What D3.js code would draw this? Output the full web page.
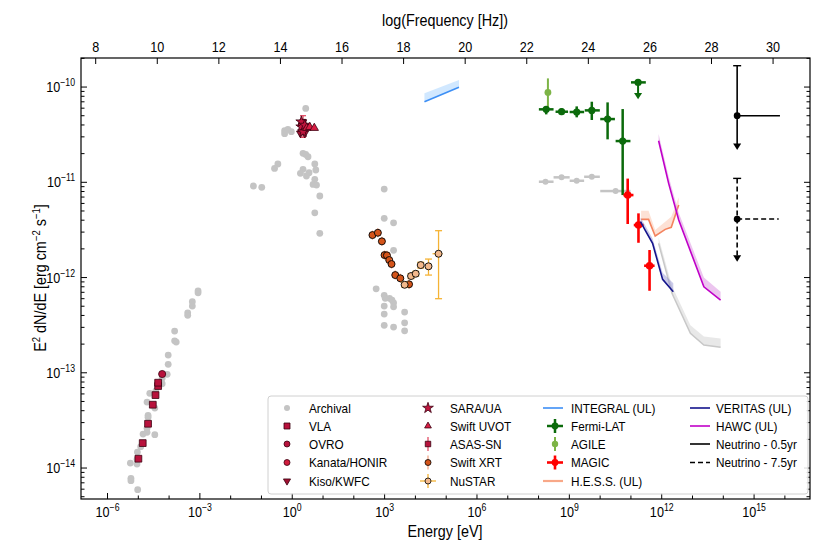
<!DOCTYPE html>
<html><head><meta charset="utf-8">
<script src="https://cdn.jsdelivr.net/npm/d3@7"></script>
<style>
body{margin:0;background:#fff}
svg{display:block}
text{font-family:"Liberation Sans",Arial,sans-serif;fill:#000}
</style>
</head><body>
<svg id="c" width="830" height="554"></svg>
<script>
// ---- DATA: log10(Energy [eV]) and log10(E^2 dN/dE [erg cm^-2 s^-1]) ----
const archival = [
 [-3.059,-12.139],[-3.059,-12.160],[-3.245,-12.254],[-3.245,-12.299],[-3.395,-12.370],[-3.395,-12.397],
 [-3.820,-12.562],[-3.820,-12.664],[-3.768,-12.677],[-4.029,-12.814],[-4.029,-12.911],[-4.062,-13.016],
 [-4.225,-13.058],[-4.225,-13.115],[-4.431,-13.192],[-4.627,-13.216],[-4.716,-13.307],[-4.464,-13.370],
 [-4.683,-13.447],[-4.683,-13.468],[-4.716,-13.583],[-4.716,-13.625],[-4.846,-13.643],[-4.464,-13.650],
 [-4.922,-13.776],[-5.029,-13.832],[-5.042,-13.909],[-5.258,-13.948],[-5.042,-13.958],[-5.239,-14.108],
 [-5.239,-14.133],[-5.020,-14.227],
 [0.438,-10.224],[-0.248,-10.459],[-0.141,-10.444],[-0.029,-10.469],[-0.248,-10.49],[0.350,-10.696],
 [0.438,-10.707],[0.513,-10.732],[-0.467,-10.808],[-0.575,-10.854],[0.732,-10.808],[0.765,-10.871],
 [0.350,-10.864],[0.265,-10.906],[0.546,-10.900],[0.461,-10.934],[0.732,-10.969],[0.676,-11.022],
 [0.788,-11.029],[-1.261,-11.039],[-0.990,-11.053],[0.895,-11.144],[0.732,-11.320],[0.895,-11.536],
 [2.987,-11.071],[2.987,-11.378],[3.291,-11.425],[3.291,-11.714],[2.725,-12.118],[2.987,-12.187],
 [3.020,-12.218],[3.160,-12.218],[3.239,-12.236],[3.291,-12.265],[2.987,-12.299],[3.291,-12.307],
 [2.987,-12.383],[3.650,-12.362],[2.987,-12.502],[3.291,-12.520],[3.650,-12.475],[3.650,-12.559]
];
// archival gamma-ray bins: [logE, logElo, logEhi, logF]
const archivalGamma = [
 [8.225,8.010,8.487,-10.994],[8.748,8.487,9.010,-10.948],[9.239,9.010,9.480,-10.984],
 [9.729,9.480,9.990,-10.942],[10.503,10.003,10.984,-11.092]
];
const vla = [[-4.997,-13.902],[-4.856,-13.738],[-4.683,-13.535],[-4.529,-13.335],[-4.441,-13.234],[-4.356,-13.139],[-4.356,-13.104]];
const ovro = [[-4.225,-13.013]];
const kanata = [[0.297,-10.390],[0.373,-10.435]];
const kiso = [[0.265,-10.486],[0.405,-10.486]];
const sara = [[0.297,-10.417],[0.350,-10.469],[0.297,-10.364],[0.405,-10.399]];
const uvot = [[0.471,-10.430],[0.569,-10.420],[0.716,-10.430]];
// ASAS-SN [logE, logF, logFlo, logFhi]
const asassn = [[0.350,-10.371,-10.528,-10.301]];
// Swift XRT [logE, logF]
const xrt = [[2.605,-11.554],[2.781,-11.530],[2.912,-11.620],[2.997,-11.764],[3.075,-11.767],
 [3.150,-11.816],[3.225,-11.858],[3.346,-11.974],[3.510,-12.008],[3.794,-12.071]];
// NuSTAR [logE, logF, logFlo, logFhi, logElo, logEhi]
const nustar = [[3.650,-12.076,-12.10,-12.05,3.62,3.68],[3.859,-11.984,-12.01,-11.96,3.83,3.89],
 [4.010,-11.960,-11.985,-11.935,3.98,4.04],[4.173,-11.869,-11.90,-11.84,4.14,4.21],
 [4.425,-11.882,-11.974,-11.806,4.37,4.48],[4.752,-11.750,-12.222,-11.508,4.556,4.882]];
// INTEGRAL UL [logE, logF (line), logF band top]
const integral = [[4.294,-10.154,-10.066],[5.415,-10.003,-9.926]];
// Fermi-LAT [logE, logElo, logEhi, logF, logFlo, logFhi]
const fermi = [[8.248,8.010,8.487,-10.234,-10.287,-10.199],[8.748,8.552,8.958,-10.259,-10.294,-10.224],
 [9.239,9.010,9.480,-10.262,-10.318,-10.203],[9.729,9.500,9.990,-10.245,-10.346,-10.154],
 [10.242,10.003,10.480,-10.336,-10.549,-10.161],[10.732,10.503,10.984,-10.567,-11.134,-10.231]];
// Fermi UL [logE, logElo, logEhi, logF, logFarrow]
const fermiUL = [[11.232,11.003,11.484,-9.951,-10.129]];
// AGILE [logE, logF, logFlo, logFhi]
const agile = [[8.304,-10.056,-10.234,-9.909]];
// MAGIC [logE, logElo, logEhi, logF, logFlo, logFhi]
const magic = [[10.895,10.755,11.082,-11.134,-11.438,-10.961],[11.245,11.092,11.418,-11.449,-11.635,-11.326],
 [11.605,11.428,11.768,-11.876,-12.139,-11.711]];
// H.E.S.S. UL [logE, logF, band top]
const hess = [[11.330,-11.389,-11.298],[11.572,-11.389,-11.298],[11.788,-11.564,-11.501],
 [12.114,-11.494,-11.414],[12.310,-11.473,-11.362],[12.552,-11.239,-11.158]];
// VERITAS UL [logE, logF, band top]
const veritas = [[11.310,-11.414,-11.37],[11.461,-11.501,-11.45],[11.703,-11.641,-11.59],
 [12.029,-12.019,-11.95],[12.376,-12.149,-12.06]];
// HAWC UL [logE, logF, band top]
const hawc = [[11.899,-10.564,-10.493],[12.225,-11.011,-10.94],[12.552,-11.396,-11.32],
 [13.369,-12.097,-12.00],[13.912,-12.236,-12.15]];
// archival TeV band [logE, logF, band top]
const greyBand = [[11.899,-11.641,-11.58],[12.333,-12.166,-12.09],[12.931,-12.586,-12.50],
 [13.369,-12.709,-12.62],[13.912,-12.733,-12.64]];
// Neutrino [logE, logEhi, logF, logFtop, logFarrow]
const nu05 = [[14.45,15.84,-10.301,-9.776,-10.661]];
const nu75 = [[14.45,15.80,-11.386,-10.959,-11.834]];
// ticks
const xMajorTicks = [-6,-3,0,3,6,9,12,15];
const xMajorLabels = ["−6","−3","0","3","6","9","12","15"];
const yMajorTicks = [-10,-11,-12,-13,-14];
const yMajorLabels = ["−10","−11","−12","−13","−14"];
const freqTicks = [8,10,12,14,16,18,20,22,24,26,28,30];
const logH = -14.3835; // log10(h [eV s])

// ---- CHART ----
const X0=81, X1=810, Y0=58, Y1=499;
const SX=0.87; // horizontal text compression
const svg = d3.select("#c");
const x = d3.scaleLog().domain([10**-6.861, 10**16.816]).range([X0, X1]);
const y = d3.scaleLog().domain([10**-14.325, 10**-9.695]).range([Y1, Y0]);
const X = v => x(10**v), Y = v => y(10**v);

svg.append("defs").append("clipPath").attr("id","clp")
  .append("rect").attr("x",X0).attr("y",Y0).attr("width",X1-X0).attr("height",Y1-Y0);
const g = svg.append("g").attr("clip-path","url(#clp)");

function txt(parent, px, py, size, anchor, rot){
  return parent.append("text").attr("transform",`translate(${px},${py})${rot?` rotate(${rot})`:""} scale(${SX},1)`)
    .attr("font-size",size).attr("text-anchor",anchor||"start");
}
function line(x1,y1,x2,y2,color,w,dash){
  const l = g.append("line").attr("x1",x1).attr("y1",y1).attr("x2",x2).attr("y2",y2)
    .attr("stroke",color).attr("stroke-width",w);
  if(dash) l.attr("stroke-dasharray",dash);
  return l;
}
function sym(parent, type, cx, cy, size, fill, stroke, sw, rot){
  return parent.append("path").attr("d", d3.symbol().type(type).size(size)())
    .attr("transform",`translate(${cx},${cy})${rot?` rotate(${rot})`:""}`)
    .attr("fill",fill).attr("stroke",stroke||"none").attr("stroke-width",sw||0);
}
function arrowDown(parent, cx, cy, color, s){
  parent.append("path").attr("d",`M${cx-s},${cy-s*1.6}L${cx+s},${cy-s*1.6}L${cx},${cy}Z`).attr("fill",color);
}
function band(data, fill, op){
  g.append("path").datum(data).attr("d", d3.area().x(d=>X(d[0])).y0(d=>Y(d[1])).y1(d=>Y(d[2])))
    .attr("fill",fill).attr("opacity",op);
}
function polyline(data, color, w){
  g.append("path").datum(data).attr("d", d3.line().x(d=>X(d[0])).y(d=>Y(d[1])))
    .attr("fill","none").attr("stroke",color).attr("stroke-width",w);
}
band(greyBand,"#bdbdbd",0.35); polyline(greyBand,"#c8c8c8",1.5);
band(integral,"#99ccff",0.45); polyline(integral,"#3d8ff5",1.6);

// archival points
archival.forEach(d=>g.append("circle").attr("cx",X(d[0])).attr("cy",Y(d[1])).attr("r",3.4).attr("fill","#c4c4c4"));
archivalGamma.forEach(d=>{
  line(X(d[1]),Y(d[3]),X(d[2]),Y(d[3]),"#c4c4c4",2.5);
  g.append("circle").attr("cx",X(d[0])).attr("cy",Y(d[3])).attr("r",3).attr("fill","#c4c4c4");
});

// radio / optical
const RED="#b8123c", EDGE="#3a0010";
vla.forEach(d=>sym(g,d3.symbolSquare,X(d[0]),Y(d[1]),46,RED,EDGE,0.8));
ovro.forEach(d=>sym(g,d3.symbolCircle,X(d[0]),Y(d[1]),40,RED,EDGE,0.8));
asassn.forEach(d=>{
  line(X(d[0]),Y(d[2]),X(d[0]),Y(d[3]),"#e0405a",1.2);
  line(X(d[0])-3,Y(d[2]),X(d[0])+3,Y(d[2]),"#e0405a",1.2);
  line(X(d[0])-3,Y(d[3]),X(d[0])+3,Y(d[3]),"#e0405a",1.2);
  sym(g,d3.symbolSquare,X(d[0]),Y(d[1]),36,RED,EDGE,0.8);
});
kanata.forEach(d=>sym(g,d3.symbolCircle,X(d[0]),Y(d[1]),30,"#d01c3c",EDGE,0.8));
kiso.forEach(d=>sym(g,d3.symbolTriangle,X(d[0]),Y(d[1]),26,"#a01030",EDGE,0.8,180));
sara.forEach(d=>sym(g,d3.symbolStar,X(d[0]),Y(d[1]),38,"#c0163e",EDGE,0.8));
uvot.forEach(d=>sym(g,d3.symbolTriangle,X(d[0]),Y(d[1]),30,"#d81e44",EDGE,0.8));

// X-ray
xrt.forEach(d=>{
  line(X(d[0]),Y(d[1])-4.5,X(d[0]),Y(d[1])+4.5,"#f2a07e",1.2);
  line(X(d[0])-3.5,Y(d[1]),X(d[0])+3.5,Y(d[1]),"#f2a07e",1.2);
  g.append("circle").attr("cx",X(d[0])).attr("cy",Y(d[1])).attr("r",3.5).attr("fill","#d4541a").attr("stroke","#000").attr("stroke-width",0.9);
});
const NUC="#f5b335";
nustar.forEach(d=>{
  line(X(d[4]),Y(d[1]),X(d[5]),Y(d[1]),NUC,1.3);
  line(X(d[0]),Y(d[2]),X(d[0]),Y(d[3]),NUC,1.3);
  line(X(d[0])-3.5,Y(d[2]),X(d[0])+3.5,Y(d[2]),NUC,1.3);
  line(X(d[0])-3.5,Y(d[3]),X(d[0])+3.5,Y(d[3]),NUC,1.3);
  g.append("circle").attr("cx",X(d[0])).attr("cy",Y(d[1])).attr("r",3.5).attr("fill","#f3b98c").attr("stroke","#000").attr("stroke-width",0.9);
});

// AGILE
agile.forEach(d=>{
  line(X(d[0]),Y(d[2]),X(d[0]),Y(d[3]),"#7db446",2);
  g.append("circle").attr("cx",X(d[0])).attr("cy",Y(d[1])).attr("r",3.4).attr("fill","#7db446");
});
// Fermi
const FG="#0b6a0b";
fermi.forEach(d=>{
  line(X(d[1]),Y(d[3]),X(d[2]),Y(d[3]),FG,2.5);
  line(X(d[0]),Y(d[4]),X(d[0]),Y(d[5]),FG,2.5);
  g.append("circle").attr("cx",X(d[0])).attr("cy",Y(d[3])).attr("r",3.6).attr("fill",FG);
});
fermiUL.forEach(d=>{
  line(X(d[1]),Y(d[3]),X(d[2]),Y(d[3]),FG,2.5);
  line(X(d[0]),Y(d[3]),X(d[0]),Y(d[4])-4,FG,2);
  arrowDown(g,X(d[0]),Y(d[4]),FG,4);
  g.append("circle").attr("cx",X(d[0])).attr("cy",Y(d[3])).attr("r",3.6).attr("fill",FG);
});
// MAGIC
magic.forEach(d=>{
  line(X(d[1]),Y(d[3]),X(d[2]),Y(d[3]),"#ff0000",2.6);
  line(X(d[0]),Y(d[4]),X(d[0]),Y(d[5]),"#ff0000",2.6);
  g.append("circle").attr("cx",X(d[0])).attr("cy",Y(d[3])).attr("r",3.8).attr("fill","#ff0000");
});
// TeV ULs
band(hess,"#f8a888",0.35); polyline(hess,"#f4845f",1.6);
band(veritas,"#8c8cd0",0.45); polyline(veritas,"#14148c",1.6);
band(hawc,"#d98ce0",0.5); polyline(hawc,"#c000c8",1.6);

// Neutrino
function neutrino(d, dash){
  const px=X(d[0]), py=Y(d[2]);
  line(px,Y(d[3]),px,Y(d[4])-5,"#000",1.6,dash);
  line(px-4,Y(d[3]),px+4,Y(d[3]),"#000",1.4);
  line(px,py,X(d[1]),py,"#000",1.6,dash);
  arrowDown(g,px,Y(d[4]),"#000",4);
  g.append("circle").attr("cx",px).attr("cy",py).attr("r",3.4).attr("fill","#000");
}
nu05.forEach(d=>neutrino(d,null));
nu75.forEach(d=>neutrino(d,"5,3"));

// ---- AXES ----
const ax = svg.append("g");
ax.append("rect").attr("x",X0).attr("y",Y0).attr("width",X1-X0).attr("height",Y1-Y0)
  .attr("fill","none").attr("stroke","#000").attr("stroke-width",1.2);
function tick(x1,y1,x2,y2){ax.append("line").attr("x1",x1).attr("y1",y1).attr("x2",x2).attr("y2",y2).attr("stroke","#000").attr("stroke-width",1);}
// bottom
for(let e=-6;e<=16;e++){
  const px=X(e); if(px<X0||px>X1) continue;
  const major = xMajorTicks.includes(e);
  tick(px,Y1,px,Y1-(major?6:3.5));
}
xMajorTicks.forEach((e,i)=>{
  const t=txt(ax,X(e),Y1+18,14.5,"middle");
  t.append("tspan").text("10");
  t.append("tspan").attr("dy",-6).attr("font-size",10).text(xMajorLabels[i]);
});
// left & right y
for(let e=-15;e<=-9;e++){
  for(let m=1;m<10;m++){
    const py=y(m*10**e); if(py<Y0||py>Y1) continue;
    const len = m===1?6:3.5;
    tick(X0,py,X0+len,py); tick(X1,py,X1-len,py);
  }
}
yMajorTicks.forEach((e,i)=>{
  const t=txt(ax,X0-6,Y(e)+5,14.5,"end");
  t.append("tspan").text("10");
  t.append("tspan").attr("dy",-6).attr("font-size",10).text(yMajorLabels[i]);
});
// top frequency axis
freqTicks.forEach(f=>{
  const px=X(f+logH);
  tick(px,Y0,px,Y0+6);
  txt(ax,px,Y0-6,14.5,"middle").text(f);
});
txt(ax,445,26,16.5,"middle").text("log(Frequency [Hz])");
txt(ax,445,537,16.5,"middle").text("Energy [eV]");
const yl=txt(ax,46,278,16.5,"middle",-90);
yl.append("tspan").text("E");
yl.append("tspan").attr("dy",-6).attr("font-size",11).text("2");
yl.append("tspan").attr("dy",6).text(" dN/dE [erg cm");
yl.append("tspan").attr("dy",-6).attr("font-size",11).text("−2");
yl.append("tspan").attr("dy",6).text(" s");
yl.append("tspan").attr("dy",-6).attr("font-size",11).text("−1");
yl.append("tspan").attr("dy",6).text("]");

// ---- LEGEND ----
const lg = svg.append("g");
lg.append("rect").attr("x",268).attr("y",396).attr("width",540).attr("height",98).attr("rx",3)
  .attr("fill","#fff").attr("fill-opacity",0.85).attr("stroke","#d0d0d0");
const rowY=[408,426,444,462.5,481];
const cols=[{m:287,t:309},{m:428,t:450},{m:555,t:571},{m:700,t:716}];
function L(c,x1,x2,yy,col,w,dash){const l=c.append("line").attr("x1",x1).attr("x2",x2).attr("y1",yy).attr("y2",yy).attr("stroke",col).attr("stroke-width",w);if(dash)l.attr("stroke-dasharray",dash);}
function V(c,xx,y1,y2,col,w){c.append("line").attr("x1",xx).attr("x2",xx).attr("y1",y1).attr("y2",y2).attr("stroke",col).attr("stroke-width",w);}
const items=[
 ["Archival",0,0,(c,yy)=>c.append("circle").attr("cx",cols[0].m).attr("cy",yy).attr("r",3).attr("fill","#c4c4c4")],
 ["VLA",0,1,(c,yy)=>sym(c,d3.symbolSquare,cols[0].m,yy,36,RED,EDGE,0.8)],
 ["OVRO",0,2,(c,yy)=>sym(c,d3.symbolCircle,cols[0].m,yy,28,RED,EDGE,0.8)],
 ["Kanata/HONIR",0,3,(c,yy)=>sym(c,d3.symbolCircle,cols[0].m,yy,28,"#d01c3c",EDGE,0.8)],
 ["Kiso/KWFC",0,4,(c,yy)=>sym(c,d3.symbolTriangle,cols[0].m,yy,22,"#a01030",EDGE,0.8,180)],
 ["SARA/UA",1,0,(c,yy)=>sym(c,d3.symbolStar,cols[1].m,yy,36,"#c0163e",EDGE,0.8)],
 ["Swift UVOT",1,1,(c,yy)=>sym(c,d3.symbolTriangle,cols[1].m,yy,20,"#d81e44",EDGE,0.8)],
 ["ASAS-SN",1,2,(c,yy)=>{V(c,cols[1].m,yy-7,yy+7,"#e0405a",1.2);sym(c,d3.symbolSquare,cols[1].m,yy,30,RED,EDGE,0.8);}],
 ["Swift XRT",1,3,(c,yy)=>{V(c,cols[1].m,yy-7,yy+7,"#f2a07e",1.2);c.append("circle").attr("cx",cols[1].m).attr("cy",yy).attr("r",3).attr("fill","#d4541a").attr("stroke","#000").attr("stroke-width",0.8);}],
 ["NuSTAR",1,4,(c,yy)=>{L(c,cols[1].m-8,cols[1].m+8,yy,NUC,1.3);V(c,cols[1].m,yy-7,yy+7,NUC,1.3);c.append("circle").attr("cx",cols[1].m).attr("cy",yy).attr("r",3).attr("fill","#f3b98c").attr("stroke","#000").attr("stroke-width",0.8);}],
 ["INTEGRAL (UL)",2,0,(c,yy)=>L(c,cols[2].m-12,cols[2].m+8,yy,"#3d8ff5",1.6)],
 ["Fermi-LAT",2,1,(c,yy)=>{L(c,cols[2].m-8,cols[2].m+8,yy,FG,2.5);V(c,cols[2].m,yy-7,yy+7,FG,2.5);c.append("circle").attr("cx",cols[2].m).attr("cy",yy).attr("r",3.4).attr("fill",FG);}],
 ["AGILE",2,2,(c,yy)=>{V(c,cols[2].m,yy-7,yy+7,"#7db446",2);c.append("circle").attr("cx",cols[2].m).attr("cy",yy).attr("r",3.2).attr("fill","#7db446");}],
 ["MAGIC",2,3,(c,yy)=>{L(c,cols[2].m-8,cols[2].m+8,yy,"#ff0000",2.6);V(c,cols[2].m,yy-7,yy+7,"#ff0000",2.6);c.append("circle").attr("cx",cols[2].m).attr("cy",yy).attr("r",3.4).attr("fill","#ff0000");}],
 ["H.E.S.S. (UL)",2,4,(c,yy)=>L(c,cols[2].m-12,cols[2].m+8,yy,"#f8a888",2.2)],
 ["VERITAS (UL)",3,0,(c,yy)=>L(c,cols[3].m-10,cols[3].m+10,yy,"#14148c",1.6)],
 ["HAWC (UL)",3,1,(c,yy)=>L(c,cols[3].m-10,cols[3].m+10,yy,"#c000c8",1.6)],
 ["Neutrino - 0.5yr",3,2,(c,yy)=>L(c,cols[3].m-10,cols[3].m+10,yy,"#000",1.6)],
 ["Neutrino - 7.5yr",3,3,(c,yy)=>L(c,cols[3].m-10,cols[3].m+10,yy,"#000",1.6,"5,3")]
];
items.forEach(([label,ci,ri,draw])=>{
  const yy=rowY[ri];
  draw(lg,yy);
  txt(lg,cols[ci].t,yy+4.5,13.5,"start").text(label);
});
</script>
</body></html>
